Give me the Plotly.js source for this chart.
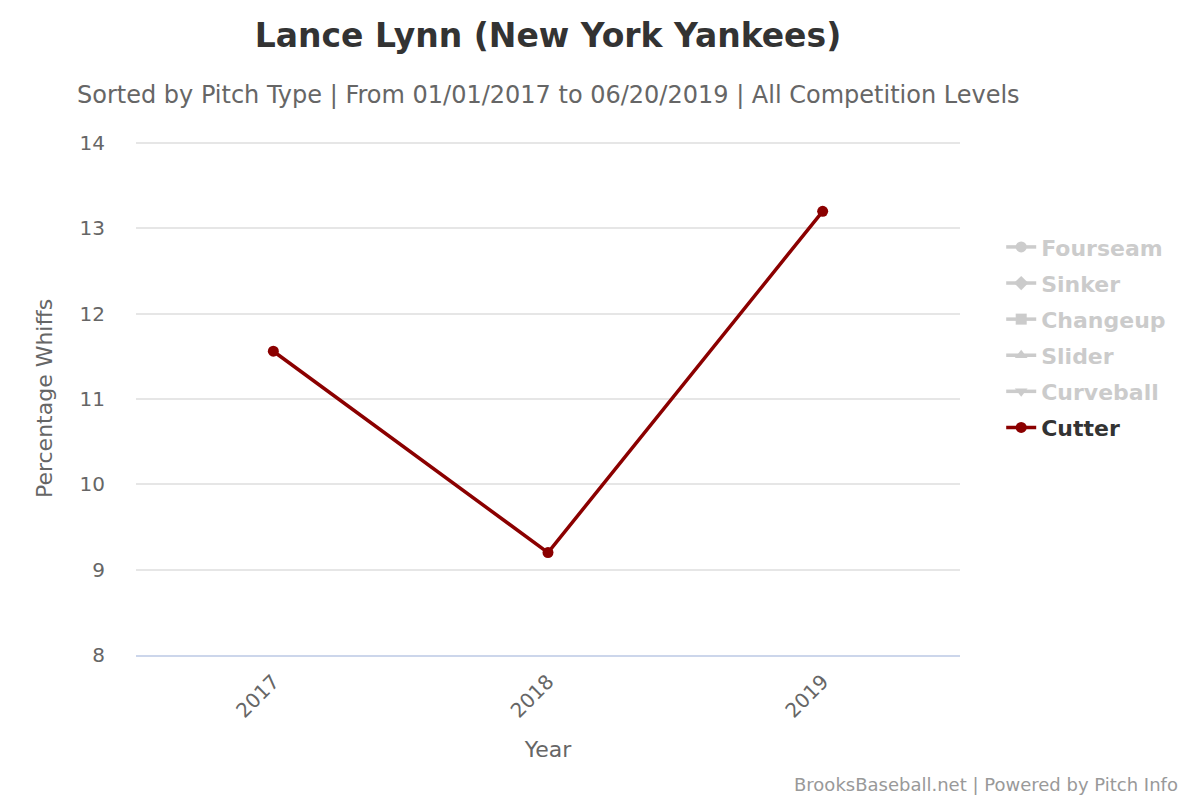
<!DOCTYPE html>
<html>
<head>
<meta charset="utf-8">
<script src="https://cdn.plot.ly/plotly-3.0.1.min.js"></script>
<style>
  html, body { margin: 0; padding: 0; background: #fff; }
  #chart { width: 1200px; height: 800px; }
</style>
</head>
<body>
<div id="chart"></div>
<script>
// Data
var years = ['2017', '2018', '2019'];
var cutterWhiffs = [11.56, 9.20, 13.20];
var hiddenPitches = ['Fourseam', 'Sinker', 'Changeup', 'Slider', 'Curveball'];
var hiddenSymbols = ['circle', 'diamond', 'square', 'triangle-up', 'triangle-down'];
var yTicks = [8, 9, 10, 11, 12, 13, 14];

var font = 'DejaVu Sans, Verdana, sans-serif';

// Pitch types without data show up greyed out in the legend
var traces = hiddenPitches.map(function(name, i) {
  return {
    x: years,
    y: years.map(function() { return null; }),
    mode: 'lines+markers',
    name: '<span style="color:#999">' + name + '</span>',
    visible: 'legendonly',
    legendgroup: name,
    line: {color: '#999', width: 3.5},
    marker: {color: '#999', size: 11, symbol: hiddenSymbols[i]}
  };
});

traces.push({
  x: years,
  y: cutterWhiffs,
  mode: 'lines+markers',
  name: 'Cutter',
  legendgroup: 'Cutter',
  line: {color: '#8b0000', width: 3.5},
  marker: {color: '#8b0000', size: 11, symbol: 'circle'}
});

var layout = {
  width: 1200,
  height: 800,
  paper_bgcolor: '#fff',
  plot_bgcolor: '#fff',
  font: {family: font, color: '#666'},
  margin: {l: 136, r: 240, t: 142, b: 145},
  title: {
    text: 'Lance Lynn (New York Yankees)',
    font: {family: font, size: 33, color: '#333', weight: 'bold'},
    x: 0.5, xref: 'paper', xanchor: 'center',
    y: 0.956, yref: 'container', yanchor: 'middle'
  },
  xaxis: {
    type: 'category',
    range: [-0.5, 2.5],
    tickangle: -45,
    tickfont: {size: 20, color: '#666'},
    ticks: '',
    ticklabelstandoff: 5,
    showgrid: false,
    showline: true,
    linecolor: '#ccd6eb',
    linewidth: 2,
    zeroline: false,
    title: {text: 'Year', font: {size: 22, color: '#666'}, standoff: 20}
  },
  yaxis: {
    range: [8, 14.012],
    tickvals: yTicks,
    tickfont: {size: 20, color: '#666'},
    ticks: '',
    ticklabelstandoff: 30,
    showgrid: true,
    gridcolor: '#e6e6e6',
    gridwidth: 2,
    zeroline: false,
    showline: false,
    title: {text: 'Percentage Whiffs', font: {size: 22, color: '#666'}, standoff: 20}
  },
  showlegend: true,
  legend: {
    x: 1.05, xanchor: 'left',
    y: 0.836, yanchor: 'top',
    font: {family: font, size: 22, color: '#333', weight: 'bold'},
    tracegroupgap: 4.5,
    itemwidth: 30,
    bgcolor: 'rgba(0,0,0,0)'
  },
  annotations: [
    {
      text: 'Sorted by Pitch Type | From 01/01/2017 to 06/20/2019 | All Competition Levels',
      xref: 'paper', yref: 'paper', x: 0.5, y: 1.0 + (143 - 96) / 512,
      xanchor: 'center', yanchor: 'middle', showarrow: false,
      font: {family: font, size: 24, color: '#666'}
    },
    {
      text: 'BrooksBaseball.net | Powered by Pitch Info',
      xref: 'paper', yref: 'paper', x: (1180 - 136) / 824, y: -(784 - 655) / 512,
      xanchor: 'right', yanchor: 'middle', showarrow: false,
      font: {family: font, size: 18, color: '#999'}
    }
  ]
};

Plotly.newPlot('chart', traces, layout, {staticPlot: true});
</script>
</body>
</html>
